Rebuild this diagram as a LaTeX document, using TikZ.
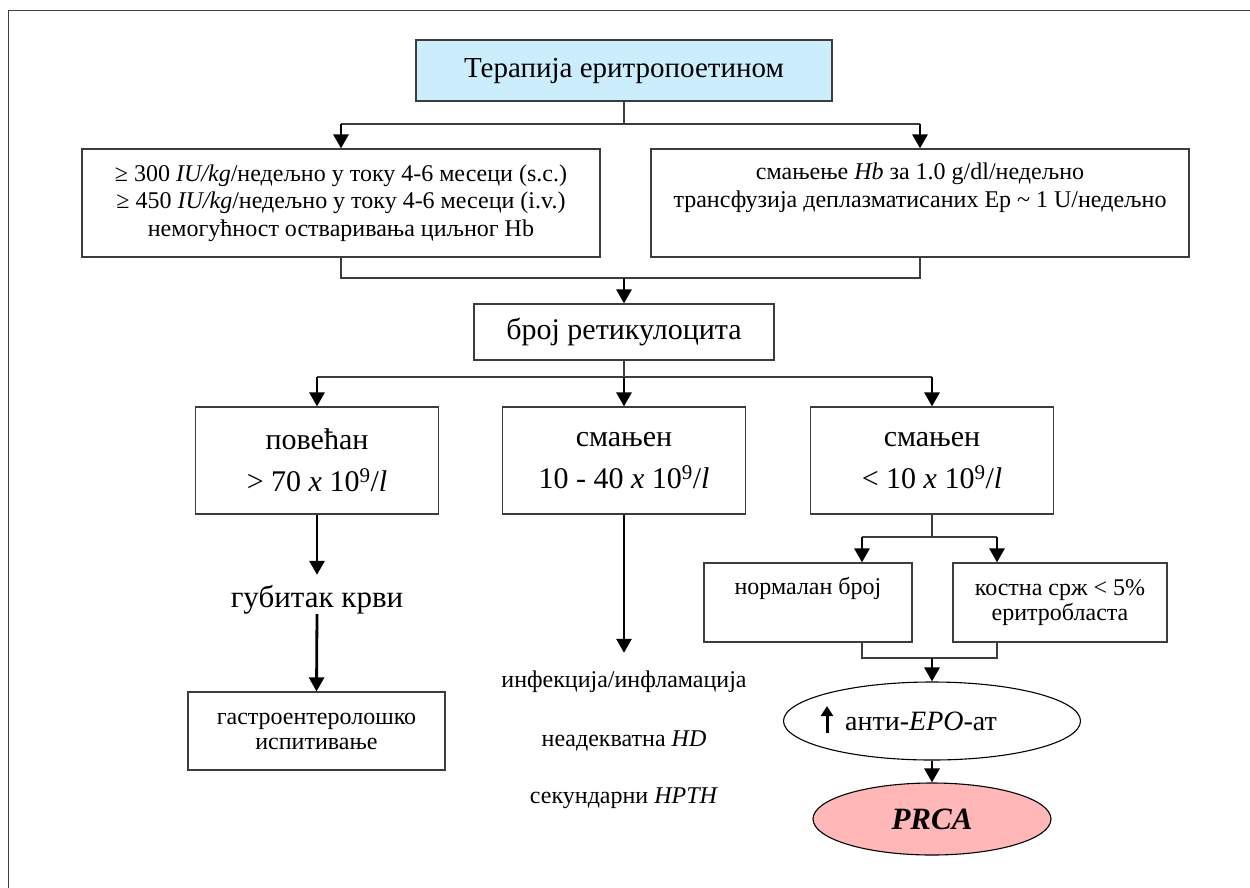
\documentclass[tikz,border=0pt]{standalone}
\usepackage{fontspec}
\setmainfont{Liberation Serif}
\usetikzlibrary{arrows.meta,shapes.geometric}
\definecolor{topfill}{RGB}{204,238,252}
\definecolor{pinkfill}{RGB}{255,183,183}
\definecolor{edge}{RGB}{60,60,60}
\begin{document}
\begin{tikzpicture}[x=1pt,y=-1pt,
  box/.style={draw=edge, line width=1.2pt, rectangle, inner sep=0pt, align=center},
  oval/.style={draw=black, line width=1.1pt, ellipse, inner sep=0pt, align=center},
  conn/.style={draw=edge, line width=1.1pt},
  arr/.style={draw=black, line width=2.8pt, -{Triangle[length=14pt,width=15pt]}},
  fA/.style={font=\fontsize{24}{27.5}\selectfont},
  fB/.style={font=\fontsize{24}{25}\selectfont},
  fC/.style={font=\fontsize{30}{42}\selectfont},
  plain/.style={inner sep=0pt, anchor=base}
]
\useasboundingbox (0,0) rectangle (1250,887);
% frame
\draw[edge, line width=1pt] (8,900) -- (8,10) -- (1260,10);

% nodes
\node[box, fill=topfill, minimum width=416pt, minimum height=61pt,
      font=\fontsize{29}{34}\selectfont] (top) at (624,70.5) {Терапија еритропоетином};
\node[box, fA, minimum width=518pt, minimum height=108pt] (lb) at (341,203)
  {≥ 300 \textit{IU/kg}/недељно у току 4-6 месеци (s.c.)\\
   ≥ 450 \textit{IU/kg}/недељно у току 4-6 месеци (i.v.)\\
   немогућност остваривања циљног Hb};
\node[box, fA, minimum width=538pt, minimum height=108pt] (rb) at (920,203)
  {смањење \textit{Hb} за 1.0 g/dl/недељно\\
   трансфузија деплазматисаних Ер \textasciitilde{} 1 U/недељно\\ \strut};
\node[box, font=\fontsize{30}{34}\selectfont, minimum width=300pt, minimum height=56pt] (ret) at (624,332) {број ретикулоцита};

\node[box, fC, minimum width=243pt, minimum height=107pt] (b1) at (317,460.5)
  {повећан\\> 70 \textit{x} 10\textsuperscript{9}/\textit{l}};
\node[box, fC, minimum width=243pt, minimum height=107pt] (b2) at (624,460.5)
  {смањен\\10 - 40 \textit{x} 10\textsuperscript{9}/\textit{l}};
\node[box, fC, minimum width=243pt, minimum height=107pt] (b3) at (932,460.5)
  {смањен\\< 10 \textit{x} 10\textsuperscript{9}/\textit{l}};

% left column
\node[plain, font=\fontsize{31}{34}\selectfont, text height=25pt, text depth=0pt, inner ysep=7pt] (loss) at (317,607) {губитак крви};
\node[box, fB, minimum width=257pt, minimum height=78pt] (gas) at (316.5,731)
  {гастроентеролошко\\испитивање};

% middle column
\node[plain, fA, text height=34pt] (inf) at (624,687) {инфекција/инфламација};
\node[plain, fA] (hd) at (624,746) {неадекватна \textit{HD}};
\node[plain, fA] (hpth) at (624,803) {секундарни \textit{HPTH}};

% right column
\node[box, fB, minimum width=208pt, minimum height=79pt] (nb) at (808,602.5)
  {нормалан број\\ \strut};
\node[box, fB, minimum width=214pt, minimum height=79pt] (ks) at (1060,602.5)
  {костна срж < 5\%\\еритробласта};
\node[oval, minimum width=297pt, minimum height=78pt, font=\fontsize{28}{32}\selectfont] (anti) at (932,721)
  {анти-\textit{EPO}-ат\hspace*{22pt}};
\node[oval, fill=pinkfill, minimum width=238pt, minimum height=72pt, font=\fontsize{31}{34}\selectfont] (prca) at (932,819)
  {\textbf{\textit{PRCA}}};

% connectors
\coordinate (j1) at (624,124);
\draw[conn] (top.south) -- (j1);
\draw[conn] (lb.north |- j1) -- (rb.north |- j1);
\draw[arr] (lb.north |- j1) -- (lb.north);
\draw[arr] (rb.north |- j1) -- (rb.north);

\coordinate (j2) at (624,278);
\draw[conn] (lb.south) -- (lb.south |- j2) -- (rb.south |- j2) -- (rb.south);
\draw[arr] (j2) -- (ret.north);

\coordinate (j3) at (624,377);
\draw[conn] (ret.south) -- (j3);
\draw[conn] (b1.north |- j3) -- (b3.north |- j3);
\draw[arr] (b1.north |- j3) -- (b1.north);
\draw[arr] (j3) -- (b2.north);
\draw[arr] (b3.north |- j3) -- (b3.north);

\draw[arr] (b1.south) -- (loss.north);
\draw[arr] (loss.south) -- (gas.north);
\draw[arr] (b2.south) -- (inf.north);

\coordinate (j4) at (932,537);
\coordinate (a1) at (862,537);
\coordinate (a2) at (997,537);
\draw[conn] (b3.south) -- (j4);
\draw[conn] (a1) -- (a2);
\draw[arr] (a1) -- (a1 |- nb.north);
\draw[arr] (a2) -- (a2 |- ks.north);

\coordinate (j5) at (932,658);
\draw[conn] (a1 |- nb.south) -- (a1 |- j5) -- (a2 |- j5) -- (a2 |- ks.south);
\draw[arr] (j5) -- (anti.north);
\draw[arr] (anti.south) -- (prca.north);

% up arrow glyph inside the ellipse
\draw[black, line width=3pt, -{Triangle[length=10pt,width=12pt]}]
  ([shift={(-105,12)}]anti.center) -- ([shift={(-105,-15)}]anti.center);
\end{tikzpicture}
\end{document}
